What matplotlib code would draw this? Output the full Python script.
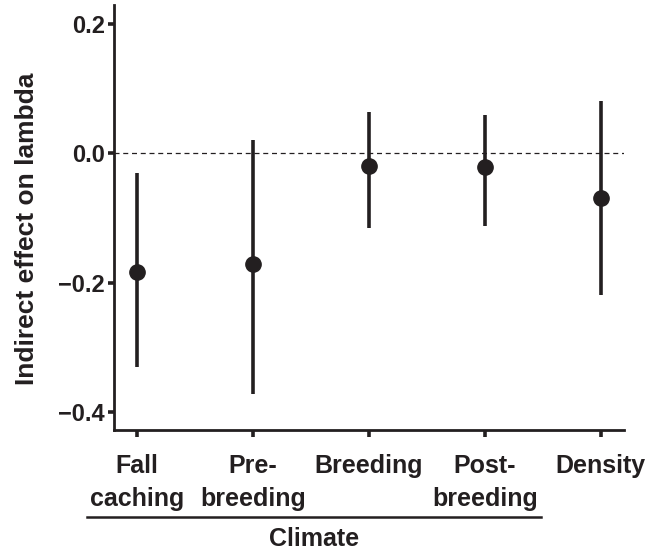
import matplotlib
matplotlib.use('Agg')
import matplotlib.pyplot as plt
import matplotlib.transforms as mtransforms

# Values
labels = ['Fall\ncaching', 'Pre-\nbreeding', 'Breeding', 'Post-\nbreeding', 'Density']
effect = [-0.183, -0.171, -0.020, -0.022, -0.069]
lower = [-0.330, -0.372, -0.116, -0.113, -0.219]
upper = [-0.031, 0.021, 0.064, 0.059, 0.080]
yticks = [0.2, 0.0, -0.2, -0.4]
ytick_labels = ['0.2', '0.0', '\u22120.2', '\u22120.4']

ink = '#231f20'
plt.rcParams['font.family'] = ['Liberation Sans', 'DejaVu Sans']
plt.rcParams['font.weight'] = 'bold'

fig = plt.figure(figsize=(6.65, 5.52), dpi=100)
ax = fig.add_axes([0.1714, 0.221, 0.7669, 0.7699])

x = list(range(1, len(labels) + 1))

# zero reference line
ax.axhline(0, color=ink, lw=0.9, ls=(0, (4, 3)), zorder=1)

# intervals and point estimates
ax.vlines(x, lower, upper, color=ink, lw=2.6, zorder=2)
ax.plot(x, effect, 'o', color=ink, ms=11, zorder=3)

ax.set_xlim(0.8, 5.2)
ax.set_ylim(-0.428, 0.229)
ax.set_yticks(yticks)
ax.set_yticklabels(ytick_labels)
ax.set_xticks(x)
ax.set_xticklabels(labels, fontsize=18, fontweight='bold', color=ink,
                   linespacing=1.5)
ax.tick_params(axis='y', labelsize=17, colors=ink, length=4.5, width=2.6, pad=2)
ax.tick_params(axis='x', colors=ink, length=5, width=2.6, pad=12)
for lab in ax.get_yticklabels():
    lab.set_fontweight('bold')

for side in ['top', 'right']:
    ax.spines[side].set_visible(False)
for side in ['left', 'bottom']:
    ax.spines[side].set_linewidth(2)
    ax.spines[side].set_color(ink)

ax.set_ylabel('Indirect effect on lambda', fontsize=19, fontweight='bold',
              color=ink)
ax.yaxis.set_label_coords(-0.147, 0.473)

# "Climate" group bracket below the first four categories
trans = mtransforms.blended_transform_factory(ax.transData, fig.transFigure)
ax.plot([0.564, 4.486], [0.064, 0.064], color=ink, lw=1.8,
        transform=trans, clip_on=False)
ax.text(2.525, 0.01, 'Climate', transform=trans, ha='center', va='baseline',
        fontsize=18, fontweight='bold', color=ink)

fig.savefig('out.png', dpi=100)
